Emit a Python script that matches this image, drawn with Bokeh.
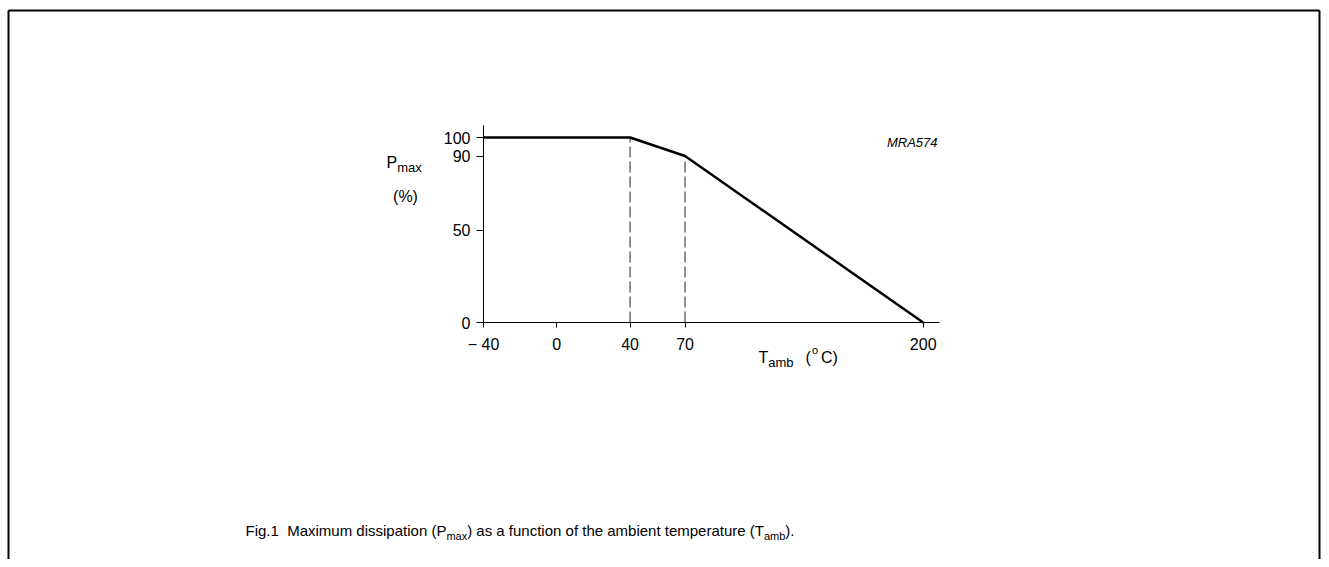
from bokeh.plotting import figure
from bokeh.models import FixedTicker, Label, LinearAxis
from bokeh.embed import file_html
from bokeh.resources import INLINE

# ---- data ----
temp = [-40, 40, 70, 200]
pmax = [100, 100, 90, 0]
x_ticks = [-40, 0, 40, 70, 200]
x_tick_labels = ["\u2212 40", "0", "40", "70", "200"]
y_ticks = [0, 50, 90, 100]
y_tick_labels = ["0", "50", "90", "100"]
dash_x = [40, 70]
dash_top = [100, 90]
x_axis_end = 209
y_axis_end = 106.5

FONT = "Liberation Sans"

# ---- layout (canvas pixel anchors) ----
W, H = 1321, 559
X0_PX, X200_PX = 483, 922.7     # canvas x of T=-40 and T=200
Y0_PX, Y100_PX = 322, 137       # canvas y of P=0 and P=100
SX = (X200_PX - X0_PX) / (200 - (-40))
SY = (Y0_PX - Y100_PX) / 100.0


def dx(px):
    return -40 + (px - X0_PX) / SX


def dy(py):
    return (Y0_PX - py) / SY


# Arial / Liberation Sans advance widths (1/1000 em)
AW = {" ": 278, "(": 333, ")": 333, ".": 278, "1": 556, "F": 611, "M": 833, "P": 667,
      "T": 611, "a": 556, "b": 556, "c": 500, "d": 556, "e": 556, "f": 278, "g": 556,
      "h": 556, "i": 222, "m": 833, "n": 556, "o": 556, "p": 556, "r": 333, "s": 500,
      "t": 278, "u": 556, "x": 500, "%": 889, "C": 722}


def tw(s, size):
    return sum(AW.get(c, 556) for c in s) * size / 1000.0


p = figure(width=W, height=H, x_range=(dx(0), dx(W)), y_range=(dy(H), dy(0)),
           x_axis_type=None, y_axis_type=None,
           output_backend="svg", toolbar_location=None,
           min_border=0)
p.xgrid.visible = False
p.ygrid.visible = False
p.outline_line_color = None
p.background_fill_color = "white"
p.border_fill_color = "white"

xaxis = LinearAxis(fixed_location=0, bounds=(-40, x_axis_end),
                   ticker=FixedTicker(ticks=x_ticks),
                   major_label_overrides={t: l for t, l in zip(x_ticks, x_tick_labels)},
                   major_tick_out=5, major_label_standoff=8)
yaxis = LinearAxis(fixed_location=-40, bounds=(0, y_axis_end),
                   ticker=FixedTicker(ticks=y_ticks),
                   major_label_overrides={t: l for t, l in zip(y_ticks, y_tick_labels)},
                   major_tick_out=7, major_label_standoff=6)
for ax in (xaxis, yaxis):
    ax.axis_line_color = "black"
    ax.axis_line_width = 1
    ax.major_tick_line_color = "black"
    ax.major_tick_in = 0
    ax.minor_tick_line_color = None
    ax.major_label_text_font = FONT
    ax.major_label_text_font_size = "16px"
    ax.major_label_text_color = "black"
p.add_layout(xaxis, "below")
p.add_layout(yaxis, "left")

# outer frame of the figure sheet (left, top, right edges; open at bottom)
fx0, fx1, fy_top, fy_bot = dx(8), dx(W - 2), dy(10), dy(H + 20)
p.segment(x0=[fx0, fx0, fx1], y0=[fy_bot, fy_top, fy_top],
          x1=[fx0, fx1, fx1], y1=[fy_top, fy_top, fy_bot],
          line_color="black", line_width=2)

# dashed guides
p.segment(x0=dash_x, y0=[0] * len(dash_x), x1=dash_x, y1=dash_top,
          line_color="#555555", line_width=1.3, line_dash="11 4")
# derating curve
p.line(temp, pmax, line_color="black", line_width=2.5)


def add_text(text, px, py, size, align="left", style="normal"):
    p.add_layout(Label(x=dx(px), y=dy(py), text=text, text_font=FONT,
                       text_font_size=f"{size}px", text_align=align,
                       text_baseline="alphabetic", text_color="black",
                       text_font_style=style))


# y axis title
add_text("P", 386, 162, 16)
add_text("max", 386 + tw("P", 16), 167, 13)
add_text("(%)", 405, 196, 16, align="center")

# x axis title
xt = 758
add_text("T", xt, 357, 16)
xt += tw("T", 16)
add_text("amb", xt, 362, 13)
xt += tw("amb", 13) + 12
add_text("(", xt, 357, 16)
xt += tw("(", 16)
add_text("o", xt + 1, 349, 11)
xt += tw("o", 11) + 4
add_text("C)", xt, 357, 16)

# figure id
add_text("MRA574", 937, 142, 13, align="right", style="italic")

# caption
cap_size, sub_size = 15, 11
segs = [("Fig.1", cap_size, 0, 2 * tw(" ", cap_size)),
        ("Maximum dissipation (P", cap_size, 0, 0),
        ("max", sub_size, 5, 0),
        (") as a function of the ambient temperature (T", cap_size, 0, 0),
        ("amb", sub_size, 5, 0),
        (").", cap_size, 0, 0)]
cx = 245
base = 530
for s, sz, off, gap in segs:
    add_text(s, cx, base + off, sz)
    cx += tw(s, sz) + gap

open("out.html", "w").write(file_html(p, INLINE))
